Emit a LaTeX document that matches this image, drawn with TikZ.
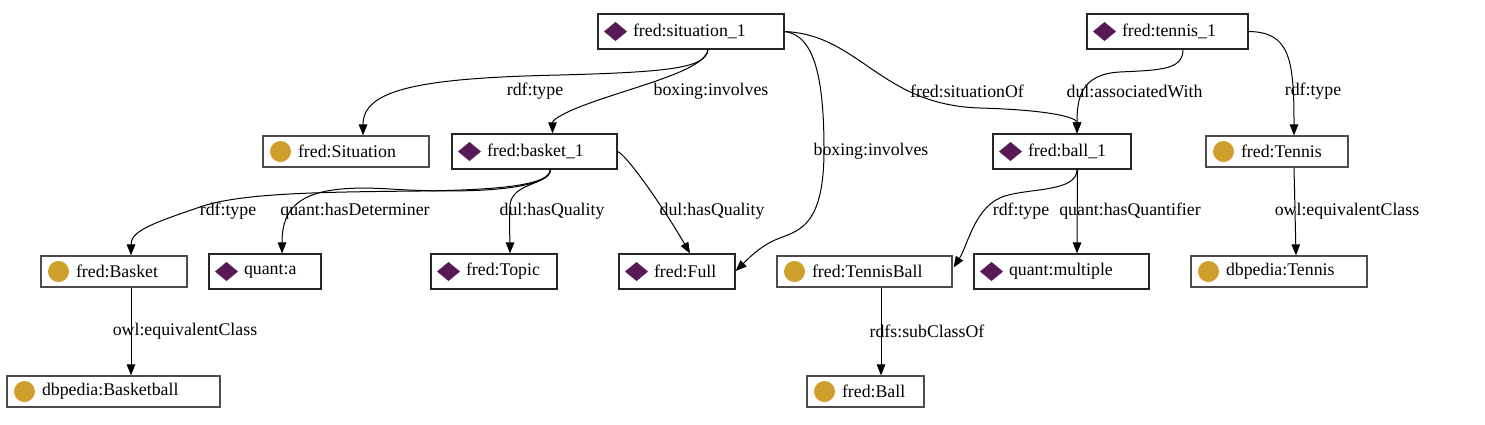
\documentclass[tikz,border=0pt]{standalone}
\usepackage{fontspec}
\setmainfont{Liberation Serif}
\usetikzlibrary{arrows.meta,calc}
\definecolor{purp}{RGB}{88,26,86}
\definecolor{gold}{RGB}{206,159,42}
\tikzset{
  box/.style={rectangle, draw, line width=1.2pt, inner xsep=6pt, inner ysep=0pt,
    align=left, font=\fontsize{17.8}{20}\selectfont},
  inst/.style={box, draw=black!85, minimum height=35pt,
    path picture={\fill[purp] ([xshift=17.5pt]path picture bounding box.west)
      +(-11.5pt,0pt) -- +(0pt,-9.5pt) -- +(11.5pt,0pt) -- +(0pt,9.5pt) -- cycle;}},
  cls/.style={box, draw=black!70, minimum height=31pt,
    path picture={\fill[gold] ([xshift=17.5pt]path picture bounding box.west) circle[radius=10.5pt];}},
  lbl/.style={font=\fontsize{17.8}{20}\selectfont, inner sep=0pt},
  conn/.style={line width=1pt, -{Triangle[length=11pt,width=8.5pt]}},
}
\newcommand{\ic}{\hspace*{29pt}}
\begin{document}
\begin{tikzpicture}[x=1pt,y=-1pt]
\useasboundingbox (0,0) rectangle (1485,424);
% nodes
\node[inst, text width=174pt] (sit) at (691,31.5) {\ic fred:situation\_1};
\node[inst, text width=149pt] (ten1) at (1167.5,31.5) {\ic fred:tennis\_1};
\node[cls, text width=154pt] (situ) at (346,151.5) {\ic fred:Situation};
\node[inst, text width=153pt] (bask1) at (534.5,151.5) {\ic fred:basket\_1};
\node[inst, text width=126pt] (ball1) at (1062,151.5) {\ic fred:ball\_1};
\node[cls, text width=130pt] (tennis) at (1277,151.5) {\ic fred:Tennis};
\node[cls, text width=134pt] (basket) at (114,271.5) {\ic fred:Basket};
\node[inst, text width=100pt] (qa) at (265,271.5) {\ic quant:a};
\node[inst, text width=114pt] (topic) at (494,271.5) {\ic fred:Topic};
\node[inst, text width=104pt] (full) at (677,271.5) {\ic fred:Full};
\node[cls, text width=163pt] (tball) at (864.5,271.5) {\ic fred:TennisBall};
\node[inst, text width=163pt] (mult) at (1061.5,271.5) {\ic quant:multiple};
\node[cls, text width=164pt] (dbten) at (1279,271.5) {\ic dbpedia:Tennis};
\node[cls, text width=201pt] (dbbask) at (113.5,391.5) {\ic dbpedia:Basketball};
\node[cls, text width=105pt] (ball) at (865.5,391.5) {\ic fred:Ball};
% connectors
\draw[conn] ($(sit.south)+(17,0)$) .. controls (706,68) and (670,72) .. (560,75)
  .. controls (420,78) and ($(situ.north)+(17,-46)$) .. ($(situ.north)+(17,0)$);
\draw[conn] ($(sit.south)+(17,0)$) .. controls (705,70) and (640,85) .. (590,103)
  .. controls (565,112) and ($(bask1.north)+(18,-14)$) .. ($(bask1.north)+(18,0)$);
\draw[conn] (sit.east) .. controls (815,35) and (824,80) .. (824,150)
  .. controls (824,225) and (800,230) .. (780,238)
  .. controls (760,245) and (745,262) .. ($(full.east)+(0,-0.5)$);
\draw[conn] (sit.east) .. controls (860,35) and (880,105) .. (980,108)
  .. controls (1050,110) and ($(ball1.north)+(15,-16)$) .. ($(ball1.north)+(15,0)$);
\draw[conn] ($(ten1.south)+(15.5,0)$) .. controls (1183,70) and (1160,70) .. (1120,72)
  .. controls (1080,74) and ($(ball1.north)+(15,-34)$) .. ($(ball1.north)+(15,0)$);
\draw[conn] (ten1.east) .. controls (1290,32) and ($(tennis.north)+(17,-76)$) .. ($(tennis.north)+(17,0)$);
\draw[conn] ($(bask1.south)+(16,0)$) .. controls (550,185) and (500,190) .. (420,191)
  .. controls (320,192) and (240,193) .. (200,207)
  .. controls (150,224) and ($(basket.north)+(17,-24)$) .. ($(basket.north)+(17,0)$);
\draw[conn] ($(bask1.south)+(16,0)$) .. controls (549,190) and (470,194) .. (390,189)
  .. controls (310,184) and ($(qa.north)+(17,-54)$) .. ($(qa.north)+(17,0)$);
\draw[conn] ($(bask1.south)+(16,0)$) .. controls (550,185) and (512,182) .. (510,205)
  .. controls (509,225) and ($(topic.north)+(16,-14)$) .. ($(topic.north)+(16,0)$);
\draw[conn] (bask1.east) .. controls (627,155) and (665,210) .. ($(full.north)+(13,0)$);
\draw[conn] ($(ball1.south)+(15,0)$) .. controls (1077,192) and (1030,188) .. (1005,196)
  .. controls (975,205) and (968,245) .. ($(tball.east)+(1,-4)$);
\draw[conn] ($(ball1.south)+(15.5,0)$) -- ($(mult.north)+(15.5,0)$);
\draw[conn] ($(tennis.south)+(17,0)$) -- ($(dbten.north)+(17,0)$);
\draw[conn] ($(basket.south)+(17,0)$) -- ($(dbbask.north)+(17.5,0)$);
\draw[conn] ($(tball.south)+(16.5,0)$) -- ($(ball.north)+(15.5,0)$);
% labels
\node[lbl] (l1) at (535,91) {rdf:type};
\node[lbl] (l2) at (711,91) {boxing:involves};
\node[lbl] (l3) at (871,151) {boxing:involves};
\node[lbl] (l4) at (967,91) {fred:situationOf};
\node[lbl] (l5) at (1134.5,91) {dul:associatedWith};
\node[lbl] (l6) at (1313,91) {rdf:type};
\node[lbl] (l7) at (228,211) {rdf:type};
\node[lbl] (l8) at (355,211) {quant:hasDeterminer};
\node[lbl] (l9) at (552,211) {dul:hasQuality};
\node[lbl] (l10) at (712,211) {dul:hasQuality};
\node[lbl] (l11) at (1021,211) {rdf:type};
\node[lbl] (l12) at (1130,211) {quant:hasQuantifier};
\node[lbl] (l13) at (1347,211) {owl:equivalentClass};
\node[lbl] (l14) at (185,331) {owl:equivalentClass};
\node[lbl] (l15) at (927,331) {rdfs:subClassOf};
\end{tikzpicture}
\end{document}
